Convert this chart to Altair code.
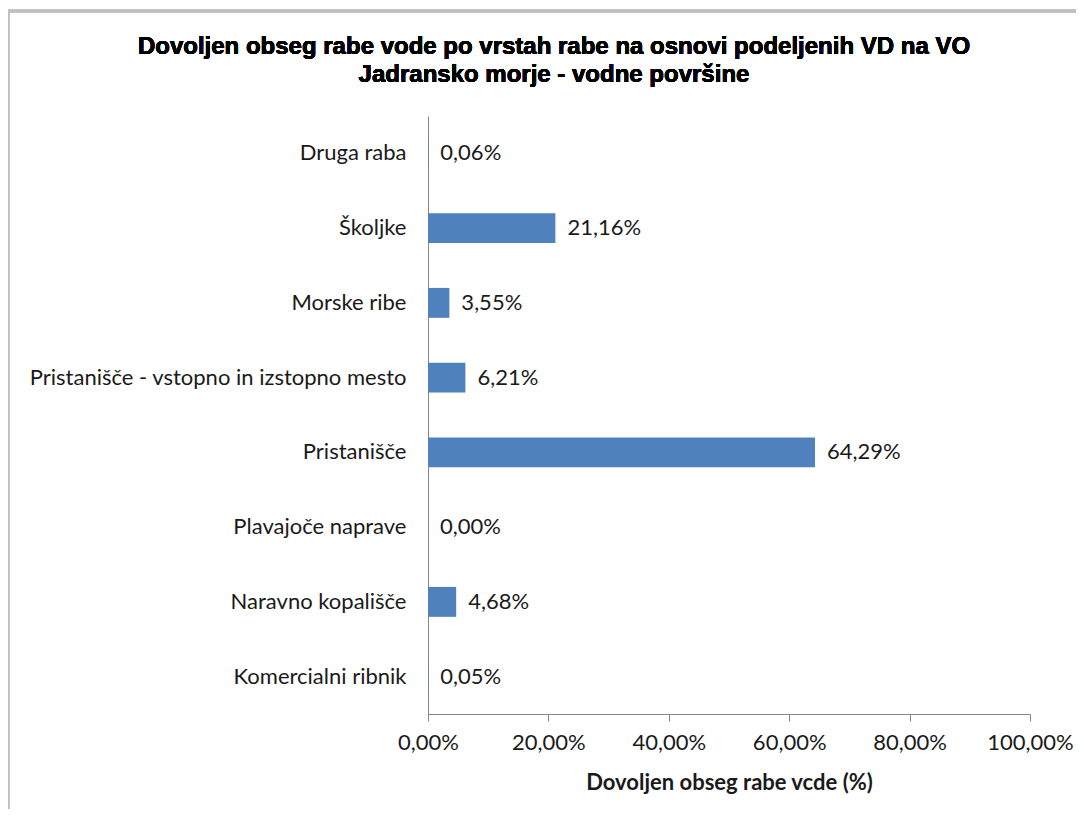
import altair as alt
import pandas as pd

categories = ["Druga raba", "Školjke", "Morske ribe ", "Pristanišče - vstopno in izstopno mesto",
              "Pristanišče", "Plavajoče naprave", "Naravno kopališče", "Komercialni ribnik"]
values = [0.06, 21.16, 3.55, 6.21, 64.29, 0.00, 4.68, 0.05]
x_ticks = [0, 20, 40, 60, 80, 100]
title_lines = ["Dovoljen obseg rabe vode po vrstah rabe na osnovi podeljenih VD na VO",
               "Jadransko morje - vodne površine"]

df = pd.DataFrame({"raba": categories, "delez": values})

LABEL_FONT = "Lato"
FS = 22
TXT = "#1a1a1a"
fmt = "replace(format(datum.delez, '.2f'), '.', ',') + '%'"

y_enc = alt.Y("raba:N", sort=categories, title=None,
              scale=alt.Scale(paddingInner=0.6, paddingOuter=0.3),
              axis=alt.Axis(labelFont=LABEL_FONT, labelFontSize=FS, labelColor=TXT,
                            ticks=False, labelPadding=22, domainColor="#868686",
                            labelLimit=500))
x_enc = alt.X("delez:Q", title="Dovoljen obseg rabe vcde (%)",
              scale=alt.Scale(domain=[0, 100]),
              axis=alt.Axis(values=x_ticks, grid=False, labelOverlap=False, labelFlush=False,
                            labelExpr="replace(format(datum.value, '.2f'), '.', ',') + '%'",
                            labelFont=LABEL_FONT, labelFontSize=FS, labelColor=TXT,
                            tickColor="#868686", tickSize=7, domainColor="#868686",
                            labelPadding=11, titleFont=LABEL_FONT, titleFontSize=FS,
                            titleFontWeight="bold", titleColor=TXT, titlePadding=19))

bars = alt.Chart(df).mark_bar(color="#4F81BD").encode(x=x_enc, y=y_enc)

labels = alt.Chart(df).transform_calculate(lab=fmt).mark_text(
    align="left", baseline="middle", dx=12, font=LABEL_FONT, fontSize=FS, color=TXT
).encode(x="delez:Q", y=alt.Y("raba:N", sort=categories), text="lab:N")

frame_top = alt.Chart(df).mark_rule(color="#BFBFBF", strokeWidth=2.5).encode(
    x=alt.value(-420), x2=alt.value(700), y=alt.value(-105))
frame_left = alt.Chart(df).mark_rule(color="#BFBFBF", strokeWidth=2.5).encode(
    x=alt.value(-420), y=alt.value(-105), y2=alt.value(720))

title1 = alt.Chart(df).mark_text(
    font="Liberation Sans", fontSize=24, fontWeight="bold", color="#000000",
    align="center", baseline="middle"
).encode(x=alt.value(126), y=alt.value(-69), text=alt.value(title_lines[0]))
title2 = alt.Chart(df).mark_text(
    font="Liberation Sans", fontSize=24, fontWeight="bold", color="#000000",
    align="center", baseline="middle"
).encode(x=alt.value(126), y=alt.value(-41), text=alt.value(title_lines[1]))

chart = alt.layer(frame_top, frame_left, title1, title2, bars, labels).properties(
    width=602, height=598,
    autosize=alt.AutoSizeParams(type="none"),
    padding={"left": 420, "top": 108, "right": 46, "bottom": 95},
).configure_view(stroke=None)

chart.save("out.html", embed_options={"renderer": "svg", "actions": False})
